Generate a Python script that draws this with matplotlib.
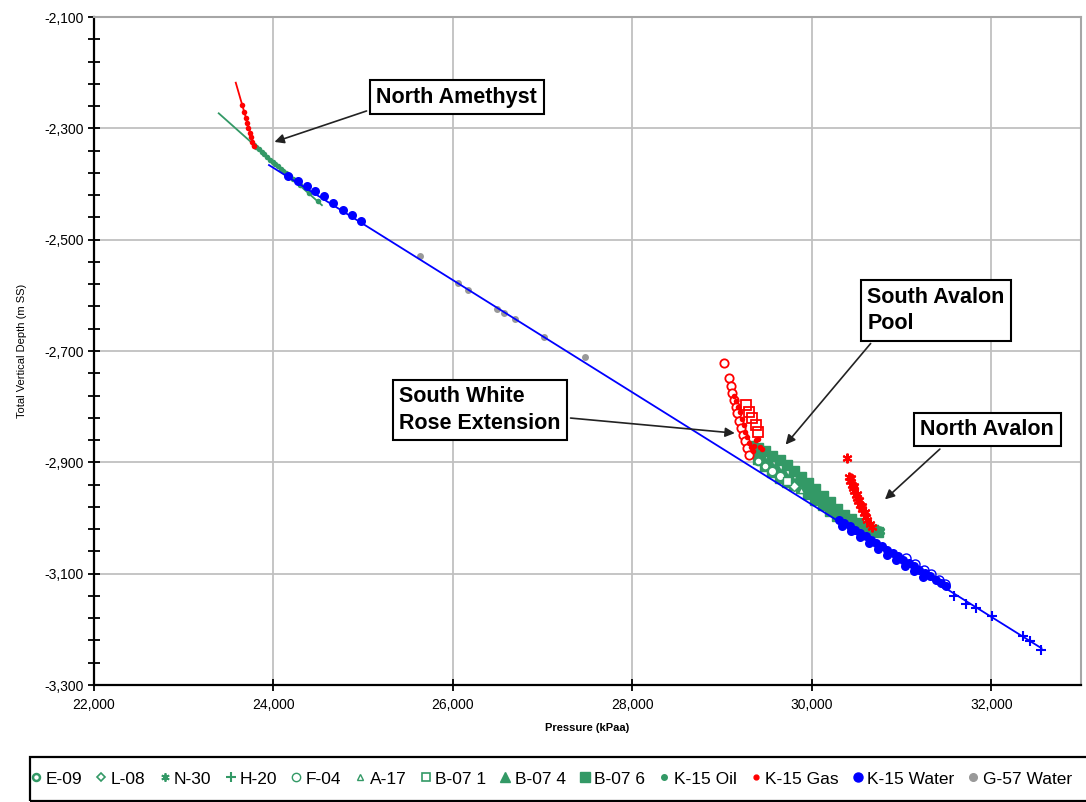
import matplotlib
matplotlib.use("Agg")
import matplotlib.pyplot as plt
from matplotlib.lines import Line2D
from matplotlib.patches import Rectangle
from matplotlib.ticker import MultipleLocator, StrMethodFormatter

plt.rcParams['font.family'] = 'Liberation Sans'
plt.rcParams['axes.unicode_minus'] = False

GREEN = '#339966'
RED = '#ff0000'
BLUE = '#0000ff'
GREY = '#999999'

# ---- trend lines (pressure kPaa, depth m SS)
water_line_p = [23950, 32560]
water_line_d = [-2366, -3234]
oil_line_p = [23390, 24540]
oil_line_d = [-2273, -2438]
gas_line_p = [23580, 23790]
gas_line_d = [-2218, -2335]

# ---- South Avalon oil band, per well
b076_p = [29320, 29400, 29480, 29560, 29640, 29720, 29800, 29880, 29960, 30040,
          30120, 30200, 30280, 30360, 30440, 30520, 30600, 30680, 30740,
          29320, 29400, 29480, 29560, 29640, 29720, 29800, 29880, 29960, 30040,
          30120, 30200, 30280, 30360, 30440, 30520, 30600, 30680]
b076_d = [-2871, -2875, -2879, -2888, -2896, -2904, -2915, -2926, -2937, -2948,
          -2960, -2972, -2984, -2995, -3002, -3009, -3015, -3021, -3025,
          -2882, -2894, -2906, -2917, -2928, -2935, -2941, -2947, -2957, -2968,
          -2976, -2987, -2997, -3003, -3008, -3013, -3018, -3022]
b074_p = [29440, 29520, 29600, 29680, 29760, 29840, 29920, 30000, 30080, 30160,
          30240, 30320, 29500, 29580, 29660, 29740, 29820]
b074_d = [-2888, -2897, -2907, -2915, -2924, -2932, -2941, -2952, -2963, -2974,
          -2985, -2995, -2905, -2914, -2924, -2933, -2940]
n30_p = [30700, 30760, 30620, 30540]
n30_d = [-3020, -3024, -3019, -3012]
h20_p = [30100, 30300, 30650]
h20_d = [-2972, -2999, -3021]
e09_p = [29400, 29480]
e09_d = [-2897, -2906]
f04_p = [29560, 29640]
f04_d = [-2915, -2925]
l08_p = [29800]
l08_d = [-2942]
a17_p = [29880]
a17_d = [-2950]
b071_p = [29720]
b071_d = [-2933]

# ---- K-15
k15_oil_p = [23780, 23810, 23840, 23870, 23900, 23930, 23960, 23990, 24020, 24050,
             24080, 24110, 24140, 24180, 24220, 24300, 24400, 24500]
k15_oil_d = [-2330, -2334, -2338, -2343, -2347, -2351, -2356, -2360, -2364, -2368,
             -2373, -2377, -2381, -2386, -2391, -2401, -2416, -2430]
k15_gas_p = [23650, 23670, 23690, 23705, 23720, 23735, 23750, 23765, 23778,
             29130, 29150, 29180, 29200, 29220, 29240, 29260, 29280, 29300,
             29320, 29340, 29360, 29380, 29400, 29420, 29440]
k15_gas_d = [-2258, -2270, -2281, -2290, -2299, -2308, -2316, -2324, -2331,
             -2780, -2790, -2800, -2810, -2822, -2833, -2845, -2855, -2865,
             -2873, -2880, -2870, -2860, -2858, -2872, -2876]
k15_water_p = [24167, 24279, 24372, 24465, 24565, 24669, 24773, 24874, 24978,
               30300, 30360, 30420, 30480, 30540, 30600, 30660, 30720, 30780, 30840,
               30900, 30960, 31020, 31080, 31140, 31200, 31260, 31320, 31380, 31440,
               31500, 30340, 30440, 30540, 30640, 30740, 30840, 30940, 31040, 31140,
               31240]
k15_water_d = [-2385, -2395, -2404, -2413, -2422, -2434, -2446, -2455, -2467,
               -3003, -3009, -3015, -3021, -3027, -3033, -3039, -3045, -3051, -3057,
               -3063, -3069, -3075, -3081, -3087, -3093, -3099, -3105, -3111, -3117,
               -3123, -3014, -3024, -3035, -3045, -3056, -3066, -3076, -3086, -3096,
               -3106]
g57_water_p = [25636, 26052, 26164, 26492, 26573, 26696, 27011, 27477]
g57_water_d = [-2529, -2578, -2590, -2625, -2632, -2643, -2674, -2710]

# ---- gas-zone and water-zone well points (plotted red / blue)
gas_ring_p = [29019, 29075, 29095, 29115, 29135, 29150, 29170, 29190, 29210, 29230,
              29250, 29275, 29300]
gas_ring_d = [-2722, -2749, -2762, -2775, -2788, -2800, -2812, -2825, -2838, -2850,
              -2862, -2875, -2886]
gas_square_p = [29261, 29298, 29335, 29373, 29398]
gas_square_d = [-2797, -2809, -2821, -2833, -2845]
gas_star_p = [30388, 30413, 30430, 30445, 30460, 30475, 30490, 30505, 30520, 30540,
              30560, 30580, 30600, 30620, 30645, 30670, 30440, 30470, 30500, 30530,
              30560, 30590]
gas_star_d = [-2893, -2926, -2933, -2940, -2946, -2952, -2958, -2964, -2970, -2977,
              -2984, -2991, -2998, -3004, -3010, -3016, -2928, -2942, -2956, -2968,
              -2979, -2990]
water_ring_p = [31050, 31150, 31250, 31330, 31420, 31480]
water_ring_d = [-3072, -3083, -3093, -3100, -3112, -3118]
water_plus_p = [31581, 31713, 31825, 32013, 32351, 32427, 32557]
water_plus_d = [-3140, -3155, -3161, -3176, -3212, -3221, -3237]

y_ticks = [-3300, -3100, -2900, -2700, -2500, -2300, -2100]
legend_labels = ['E-09', 'L-08', 'N-30', 'H-20', 'F-04', 'A-17', 'B-07 1',
                 'B-07 4', 'B-07 6', 'K-15 Oil', 'K-15 Gas', 'K-15 Water', 'G-57 Water']

fig = plt.figure(figsize=(10.86, 8.02), dpi=100)
ax = fig.add_axes([94/1086, 1-685/802, (1081-94)/1086, (685-17)/802])

# trend lines
ax.plot(water_line_p, water_line_d, color=BLUE, lw=1.3, zorder=4)
ax.plot(oil_line_p, oil_line_d, color=GREEN, lw=1.3, zorder=3)
ax.plot(gas_line_p, gas_line_d, color=RED, lw=1.3, zorder=3)

# points
ax.plot(g57_water_p, g57_water_d, 'o', color=GREY, ms=5, mec='none', zorder=3)
ax.plot(b076_p, b076_d, 's', color=GREEN, ms=7, mec=GREEN, zorder=3)
ax.plot(b074_p, b074_d, '^', color=GREEN, ms=7.5, mec=GREEN, zorder=3)
ax.plot(n30_p, n30_d, marker=(6, 2, 0), ls='none', color=GREEN, ms=7, mew=1.5, zorder=3)
ax.plot(h20_p, h20_d, '+', color=GREEN, ms=7, mew=1.5, zorder=3)
ax.plot(e09_p, e09_d, 'o', color=GREEN, mfc='white', ms=5.5, mew=1.5, zorder=4)
ax.plot(f04_p, f04_d, 'o', color=GREEN, mfc='white', ms=6, mew=1, zorder=4)
ax.plot(l08_p, l08_d, 'D', color=GREEN, mfc='white', ms=5, mew=1, zorder=4)
ax.plot(a17_p, a17_d, '^', color=GREEN, mfc='white', ms=5, mew=1, zorder=4)
ax.plot(b071_p, b071_d, 's', color=GREEN, mfc='white', ms=5.5, mew=1, zorder=4)
ax.plot(k15_oil_p, k15_oil_d, 'o', color=GREEN, ms=4, mec='none', zorder=3)
ax.plot(gas_ring_p, gas_ring_d, 'o', color=RED, mfc='white', ms=6, mew=1.3, zorder=3)
ax.plot(gas_square_p, gas_square_d, 's', color=RED, mfc='none', ms=7, mew=1.3, zorder=3)
ax.plot(k15_gas_p, k15_gas_d, 'o', color=RED, ms=4, mec='none', zorder=3)
ax.plot(gas_star_p, gas_star_d, marker=(6, 2, 0), ls='none', color=RED, ms=7, mew=1.5, zorder=3)
ax.plot(k15_water_p, k15_water_d, 'o', color=BLUE, ms=6.5, mec='none', zorder=5)
ax.plot(water_ring_p, water_ring_d, 'o', color=BLUE, mfc='none', ms=6.5, mew=1, zorder=5)
ax.plot(water_plus_p, water_plus_d, '+', color=BLUE, ms=7, mew=1.5, zorder=5)

# axes
ax.set_xlim(22000, 33000)
ax.set_ylim(-3300, -2100)
ax.xaxis.set_major_locator(MultipleLocator(2000))
ax.set_yticks(y_ticks)
ax.yaxis.set_minor_locator(MultipleLocator(40, offset=20))
ax.xaxis.set_major_formatter(StrMethodFormatter('{x:,.0f}'))
ax.yaxis.set_major_formatter(StrMethodFormatter('{x:,.0f}'))
ax.grid(True, which='major', color='#c0c0c0', lw=1.3)
ax.set_axisbelow(True)
ax.tick_params(which='major', direction='inout', length=9, width=1.3, labelsize=10, pad=3)
ax.tick_params(which='minor', direction='inout', length=8, width=1.3)
ax.tick_params(axis='x', pad=5)
for s in ['left', 'bottom']:
    ax.spines[s].set_linewidth(1.6)
    ax.spines[s].set_color('black')
for s in ['top', 'right']:
    ax.spines[s].set_color('#a6a6a6')
    ax.spines[s].set_linewidth(1.5)

ax.set_xlabel('Pressure (kPaa)', fontsize=8, fontweight='bold', labelpad=8)
ax.set_ylabel('Total Vertical Depth (m SS)', fontsize=8, labelpad=12)

# annotations
box = dict(boxstyle='square,pad=0.3', fc='white', ec='black', lw=1.5)
arrow = dict(arrowstyle='-|>', color='#222222', lw=1.2, mutation_scale=14)
ax.annotate('North Amethyst', xy=(23982, -2326), xytext=(26043, -2244),
            fontsize=15.5, fontweight='bold', ha='center', va='center', bbox=box,
            arrowprops=dict(arrow, relpos=(0, 0)), zorder=6)
ax.annotate('South Avalon\nPool', xy=(29688, -2872), xytext=(31386, -2627),
            fontsize=15.5, fontweight='bold', ha='center', va='center', multialignment='left',
            linespacing=1.35, bbox=box, arrowprops=dict(arrow, relpos=(0.08, 0)), zorder=6)
ax.annotate('North Avalon', xy=(30792, -2970), xytext=(31955, -2841),
            fontsize=15.5, fontweight='bold', ha='center', va='center', bbox=box,
            arrowprops=dict(arrow, relpos=(0.22, 0)), zorder=6)
ax.annotate('South White\nRose Extension', xy=(29172, -2848), xytext=(26300, -2806),
            fontsize=15.5, fontweight='bold', ha='center', va='center', multialignment='left',
            linespacing=1.35, bbox=box, arrowprops=dict(arrow, relpos=(1, 0.35)), zorder=6)

# legend (frame drawn separately, it runs past the right edge)
handles = [
    Line2D([], [], ls='none', marker='o', color=GREEN, mfc='white', ms=5, mew=1.8),
    Line2D([], [], ls='none', marker='D', color=GREEN, mfc='white', ms=4.5, mew=1.2),
    Line2D([], [], ls='none', marker=(6, 2, 0), color=GREEN, ms=6, mew=1.3),
    Line2D([], [], ls='none', marker='+', color=GREEN, ms=7, mew=1.5),
    Line2D([], [], ls='none', marker='o', color=GREEN, mfc='white', ms=6, mew=1),
    Line2D([], [], ls='none', marker='^', color=GREEN, mfc='white', ms=5, mew=1),
    Line2D([], [], ls='none', marker='s', color=GREEN, mfc='white', ms=6, mew=1.2),
    Line2D([], [], ls='none', marker='^', color=GREEN, ms=6.5),
    Line2D([], [], ls='none', marker='s', color=GREEN, ms=7),
    Line2D([], [], ls='none', marker='o', color=GREEN, ms=4),
    Line2D([], [], ls='none', marker='o', color=RED, ms=3.5),
    Line2D([], [], ls='none', marker='o', color=BLUE, ms=6.5),
    Line2D([], [], ls='none', marker='o', color=GREY, ms=5.5),
]
fig.patches.append(Rectangle((30/1086, 1-801/802), 1.0, 44/802, transform=fig.transFigure,
                             fill=False, ec='black', lw=1.6))
leg = fig.legend(handles, legend_labels, loc='center left', bbox_to_anchor=(32/1086, 1-779/802),
                 ncol=13, frameon=False, fontsize=12.5, handlelength=0.5, handletextpad=0.3,
                 columnspacing=0.84, borderpad=0, borderaxespad=0)

fig.savefig('out.png', dpi=100)
